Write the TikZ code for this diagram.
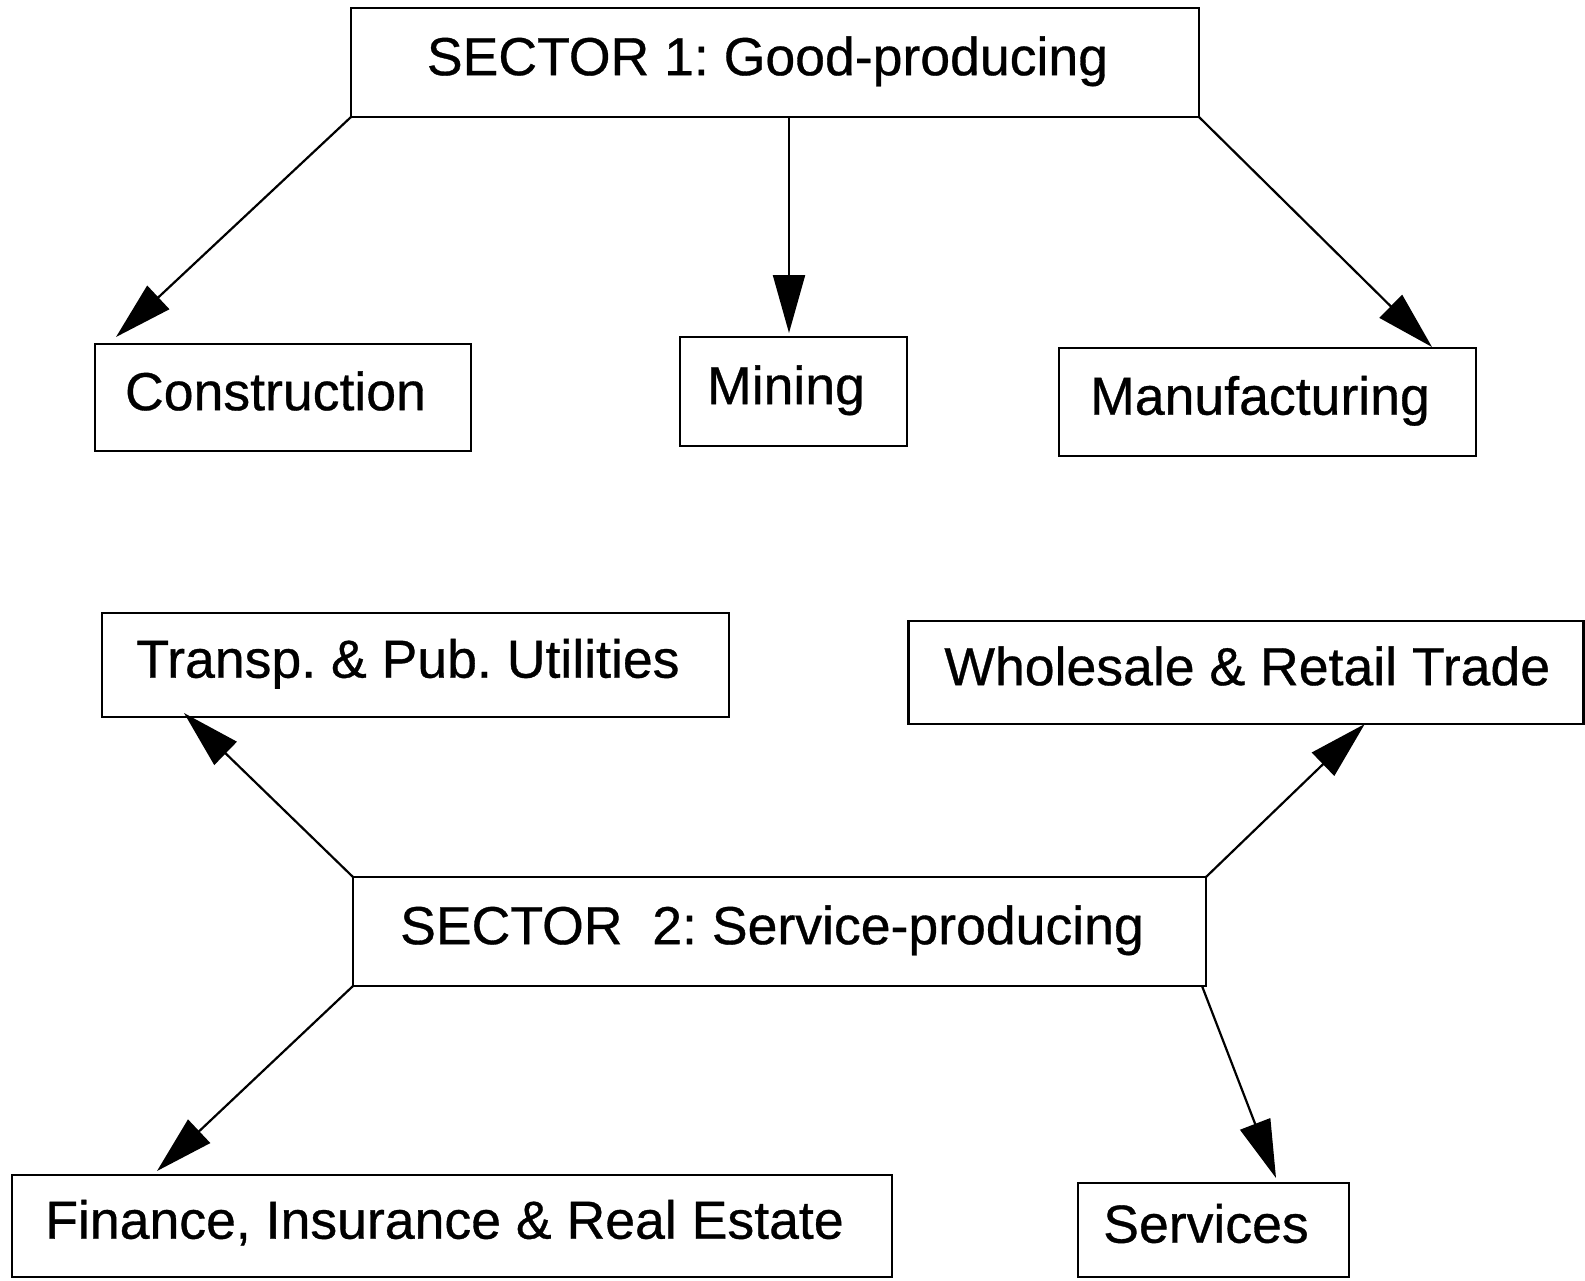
\documentclass[tikz,border=0pt]{standalone}
\usepackage{fontspec}
\setmainfont{Liberation Sans}[BoldFont={Liberation Sans},BoldFeatures={FakeBold=0.6}]
\usetikzlibrary{arrows.meta}

\begin{document}
\frenchspacing
\begin{tikzpicture}[x=0.5pt,y=-0.5pt,
    box/.style={draw,line width=1.4pt,inner sep=0pt,outer sep=0pt,
      text height=19.5pt,text depth=6.8pt,font=\fontsize{26.8}{32}\selectfont\bfseries,
      execute at end node={\hspace*{#1}}},
    box/.default=7.5pt,
    arr/.style={line width=1.1pt,-{Triangle[length=29pt,width=16pt]}}]
  \useasboundingbox (0,0) rectangle (1585,1280);
  \node[box,minimum width=424pt,minimum height=54.5pt] (s1) at (775,62.5) {SECTOR 1: Good-producing};
  \node[box,minimum width=188pt,minimum height=53.5pt] (con) at (283,397.5) {Construction};
  \node[box,minimum width=113.5pt,minimum height=54.5pt] (min) at (793.5,391.5) {Mining};
  \node[box,minimum width=208.5pt,minimum height=54pt] (man) at (1267.5,402) {Manufacturing};
  \node[box,minimum width=313.5pt,minimum height=52pt] (tra) at (415.5,665) {Transp. \& Pub. Utilities};
  \node[box=-1.5pt,minimum width=337.5pt,minimum height=51.5pt] (who) at (1245.75,672.5) {Wholesale \& Retail Trade};
  \node[box,minimum width=426.5pt,minimum height=54.5pt] (s2) at (779.5,931.5) {SECTOR\ \ 2: Service-producing};
  \node[box,minimum width=440pt,minimum height=51pt] (fin) at (452,1226) {Finance, Insurance \& Real Estate};
  \node[box,minimum width=135.5pt,minimum height=47pt] (ser) at (1213.5,1230) {Services};

  \draw[arr] (s1.south west) -- ([shift={(21,-7)}]con.north west);
  \draw[arr] ([shift={(14,0)}]s1.south) -- ([shift={(-4.5,-4)}]min.north);
  \draw[arr] (s1.south east) -- ([shift={(-44,-1)}]man.north east);
  \draw[arr] (s2.north west) -- ([shift={(82,-4)}]tra.south west);
  \draw[arr] (s2.north east) -- ([shift={(119,0)}]who.south);
  \draw[arr] (s2.south west) -- ([shift={(145,-4)}]fin.north west);
  \draw[arr] ([shift={(-4,0)}]s2.south east) -- ([shift={(-73,-5)}]ser.north east);
\end{tikzpicture}
\end{document}
